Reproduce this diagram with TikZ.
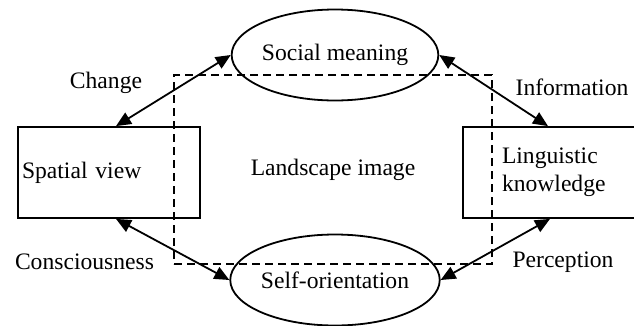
\documentclass[tikz,border=0pt]{standalone}
\usepackage{fontspec}
\setmainfont{Liberation Serif}
\usetikzlibrary{shapes.geometric,arrows.meta,calc}
\begin{document}
\begin{tikzpicture}[x=1pt,y=-1pt,
  every node/.style={font=\fontsize{23.6}{28}\selectfont},
  oval/.style={draw,ellipse,line width=1.8pt,minimum width=184pt,minimum height=91pt,inner sep=0pt},
  box/.style={draw,rectangle,line width=1.8pt,minimum height=91pt,align=left},
  frame/.style={draw,rectangle,dash pattern=on 8pt off 5pt,line width=1.8pt,minimum width=318pt,minimum height=189pt,inner sep=0pt},
  link/.style={line width=1.8pt,{Triangle[length=15pt,width=13pt]}-{Triangle[length=15pt,width=13pt]}},
  lbl/.style={inner sep=0pt}]
\useasboundingbox (0,0) rectangle (634,325);
\node[frame] (li) at (333,169.5) {Landscape image};
\node[oval] (sm) at (335,55) {Social meaning};
\node[oval] (so) at (335,280) {Self-orientation};
\node[box,text width=174pt,inner xsep=4pt] (sv) at (109,172.5) {Spatial view};
\node[box,text width=104pt,inner xsep=39pt] (lk) at (554,172.5) {Linguistic\\knowledge};
\coordinate (svn) at ($(sv.north)+(7,0)$);
\coordinate (svs) at ($(sv.south)+(7,0)$);
\coordinate (lkn) at ($(lk.north)+(-6,0)$);
\coordinate (lks) at ($(lk.south)+(-4,0)$);
\draw[link] (svn) -- (sm.west);
\draw[link] (sm.east) -- (lkn);
\draw[link] (svs) -- (so.west);
\draw[link] (lks) -- (so.east);
\node[lbl] (lc) at (106,83) {Change};
\node[lbl] (li2) at (572,87) {Information};
\node[lbl] (lcs) at (84.5,262) {Consciousness};
\node[lbl] (lp) at (563,262) {Perception};
\end{tikzpicture}
\end{document}
